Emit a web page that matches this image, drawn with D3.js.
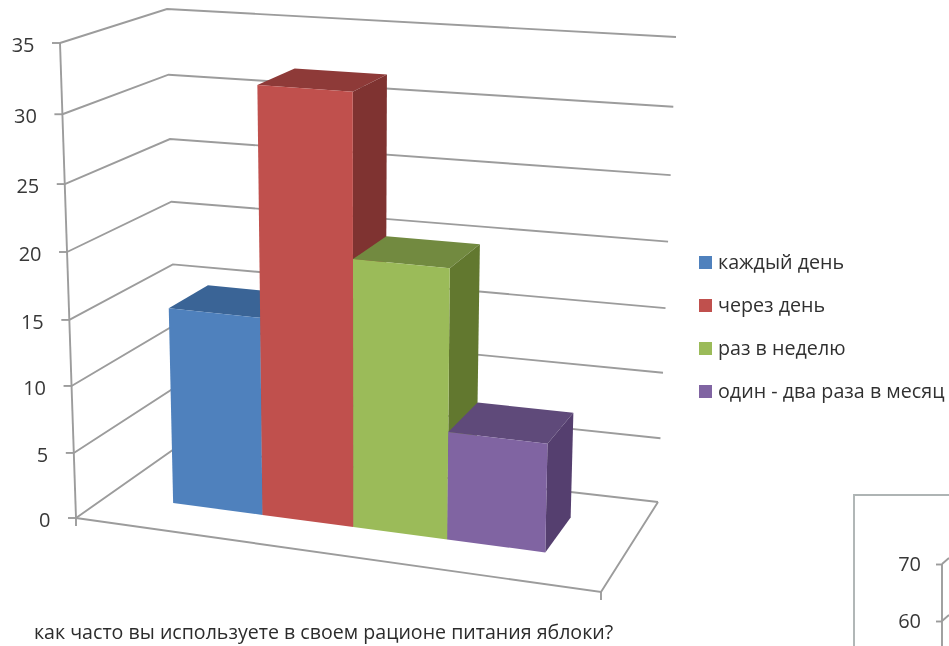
<!DOCTYPE html>
<html lang="ru">
<head>
<meta charset="utf-8">
<script src="https://cdn.jsdelivr.net/npm/d3@7"></script>
<style>
html,body{margin:0;padding:0;background:#fff;overflow:hidden}
svg{display:block;filter:blur(0.75px)}
text{font-family:"Open Sans","Noto Sans",sans-serif}
</style>
</head>
<body>
<script>
const categories = ["каждый день", "через день", "раз в неделю", "один - два раза в месяц"];
const values = [15, 32, 20, 8];
const yTicks = [0, 5, 10, 15, 20, 25, 30, 35];
const xTitle = "как часто вы используете в своем рационе питания яблоки?";
const frontColors = ["#4f81bd", "#c0504d", "#9bbb59", "#8064a2"];
const topColors = ["#3a6496", "#8e3a38", "#728a40", "#5f4a7a"];
const sideColors = ["#35598a", "#7f3331", "#62782f", "#553f6f"];
const insetTicks = [60, 70];

const W = 949, H = 646;
const svg = d3.select("body").append("svg").attr("width", W).attr("height", H);

// Perspective box: u across the front, v into the depth, t up the wall.
const corners = {
  fl: { x: 76, y: 518, dx: -16, dy: -475 },
  fr: { x: 601, y: 592, dx: 12, dy: -510 },
  bl: { x: 177, y: 447, dx: -10, dy: -438 },
  br: { x: 658, y: 502, dx: 18, dy: -465 }
};
const heightScale = d3.scaleLinear().domain(yTicks)
  .range([0, 0.137, 0.278, 0.417, 0.560, 0.703, 0.850, 1]);
const barEdge = d3.scaleLinear().domain([0, 1, 2, 3, 4])
  .range([0.125, 0.300, 0.478, 0.662, 0.854]);
const barDepth = [0.33, 0.73];

function project(u, v, value) {
  const t = heightScale(value);
  const mix = k => (1 - u) * ((1 - v) * corners.fl[k] + v * corners.bl[k]) +
                   u * ((1 - v) * corners.fr[k] + v * corners.br[k]);
  return [mix("x") + t * mix("dx"), mix("y") + t * mix("dy")];
}
const poly = pts => d3.line()(pts) + "Z";

const gridColor = "#9c9c9c";
const grid = svg.append("g").attr("fill", "none").attr("stroke", gridColor).attr("stroke-width", 1.9);

// Gridlines on the side wall and back wall
grid.selectAll("path.wall").data(yTicks).join("path").attr("class", "wall")
  .attr("d", d => d3.line()([project(0, 0, d), project(0, 1, d), project(1, 1, d)]));
// Floor edges and the vertical axis
grid.append("path").attr("d", d3.line()([project(0, 0, 0), project(1, 0, 0), project(1, 1, 0)]));
grid.append("path").attr("d", d3.line()([project(0, 0, 0), project(0, 0, 35)]));
// Tick marks
grid.selectAll("path.tick").data(yTicks).join("path").attr("class", "tick")
  .attr("d", d => { const p = project(0, 0, d); return d3.line()([[p[0] - 8, p[1]], p]); });
[0, 1].forEach(u => {
  const p = project(u, 0, 0);
  grid.append("path").attr("d", d3.line()([p, [p[0], p[1] + 8]]));
});

// Value labels
svg.append("g").selectAll("text").data(yTicks).join("text")
  .attr("x", d => project(0, 0, d)[0] - 25.5)
  .attr("y", d => project(0, 0, d)[1] + 9)
  .attr("text-anchor", "end").attr("font-size", 20).attr("font-weight", 500).attr("fill", "#383838")
  .text(d => d);

// Bars: top, side, then front, painted left to right
const bars = svg.append("g").selectAll("g").data(values).join("g");
bars.append("path").attr("fill", (d, i) => topColors[i])
  .attr("d", (d, i) => poly([
    project(barEdge(i), barDepth[0], d), project(barEdge(i + 1), barDepth[0], d),
    project(barEdge(i + 1), barDepth[1], d), project(barEdge(i), barDepth[1], d)]));
bars.append("path").attr("fill", (d, i) => sideColors[i])
  .attr("d", (d, i) => poly([
    project(barEdge(i + 1), barDepth[0], 0), project(barEdge(i + 1), barDepth[0], d),
    project(barEdge(i + 1), barDepth[1], d), project(barEdge(i + 1), barDepth[1], 0)]));
bars.append("path").attr("fill", (d, i) => frontColors[i])
  .attr("d", (d, i) => poly([
    project(barEdge(i), barDepth[0], 0), project(barEdge(i), barDepth[0], d),
    project(barEdge(i + 1), barDepth[0], d), project(barEdge(i + 1), barDepth[0], 0)]));

// Legend
const legendY = d3.scalePoint().domain(categories).range([262.5, 391.5]);
const legend = svg.append("g").selectAll("g").data(categories).join("g")
  .attr("transform", d => `translate(699,${legendY(d)})`);
legend.append("rect").attr("y", -6.5).attr("width", 13).attr("height", 13)
  .attr("fill", (d, i) => frontColors[i]);
legend.append("text").attr("x", 19).attr("y", 6).attr("font-size", 19.7).attr("fill", "#303030")
  .text(d => d);

// Axis title
svg.append("text").attr("x", 34).attr("y", 639).attr("font-size", 19.6).attr("fill", "#2c2c2c")
  .text(xTitle);

// Corner of the neighbouring chart
const inset = svg.append("g");
inset.append("path").attr("fill", "none").attr("stroke", "#aeb4b4").attr("stroke-width", 1.9)
  .attr("d", d3.line()([[854, H], [854, 495], [W, 495]]));
const insetY = d3.scaleLinear().domain(insetTicks).range([621, 564]);
const insetAxis = inset.append("g").attr("transform", "translate(942,0)")
  .call(d3.axisLeft(insetY).tickValues(insetTicks).tickSize(6).tickPadding(15).tickFormat(d3.format("d")));
insetAxis.select(".domain").remove();
insetAxis.selectAll("line").attr("stroke", gridColor).attr("stroke-width", 1.9);
insetAxis.selectAll("text").attr("font-size", 20).attr("font-weight", 500).attr("fill", "#383838")
  .style("font-family", '"Open Sans","Noto Sans",sans-serif');
inset.append("path").attr("fill", "none").attr("stroke", gridColor).attr("stroke-width", 1.9)
  .attr("d", d3.line()([[942, insetY(70)], [942, H]]));
inset.selectAll("path.diag").data(insetTicks).join("path").attr("class", "diag")
  .attr("fill", "none").attr("stroke", gridColor).attr("stroke-width", 1.9)
  .attr("d", d => d3.line()([[942, insetY(d)], [W, insetY(d) - 6]]));
</script>
</body>
</html>
